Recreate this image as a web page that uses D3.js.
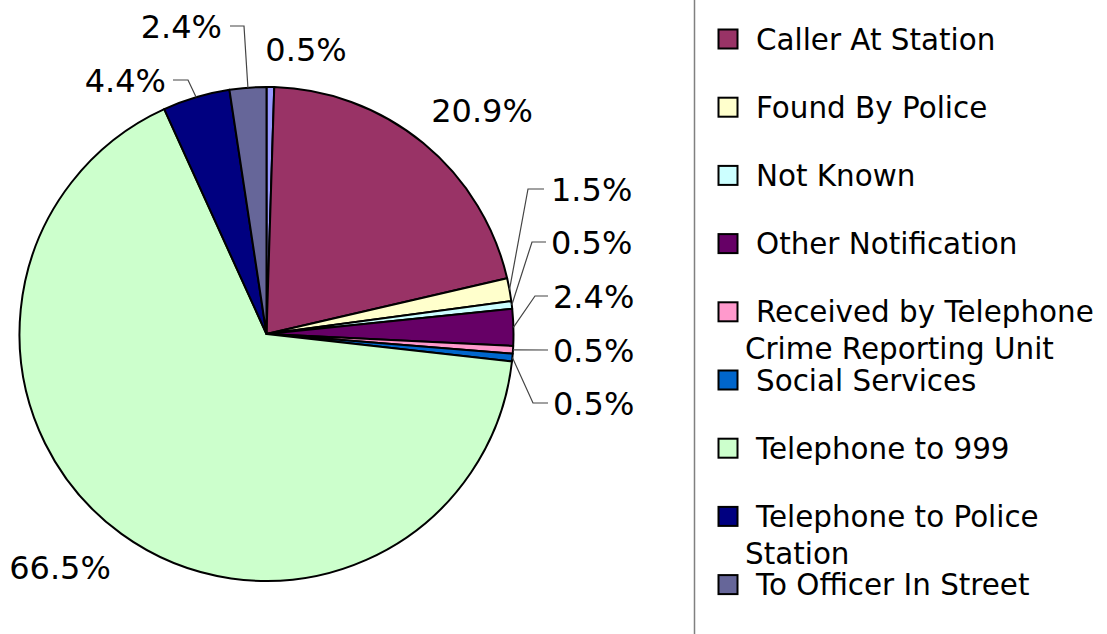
<!DOCTYPE html>
<html><head><meta charset="utf-8">
<script src="https://cdn.jsdelivr.net/npm/d3@7"></script>
<style>body{margin:0;background:#fff}svg{display:block}</style>
</head><body>
<svg id="c" width="1107" height="634"></svg>
<script>
const categories = ["", "Caller At Station", "Found By Police", "Not Known", "Other Notification",
  "Received by Telephone Crime Reporting Unit", "Social Services", "Telephone to 999",
  "Telephone to Police Station", "To Officer In Street"];
const values = [0.5, 20.9, 1.5, 0.5, 2.4, 0.5, 0.5, 66.5, 4.4, 2.4];
const labels = ["0.5%", "20.9%", "1.5%", "0.5%", "2.4%", "0.5%", "0.5%", "66.5%", "4.4%", "2.4%"];
const colors = ["#9999FF", "#993366", "#FFFFCC", "#CCFFFF", "#660066", "#FF99CC", "#0066CC", "#CCFFCC", "#000080", "#666699"];

// label layout (text position, anchor, optional elbow for leader lines)
const labelLayout = [
  {x: 306, y: 49, a: "middle"},
  {x: 482, y: 110, a: "middle"},
  {x: 551, y: 189, a: "start", ex: 528, hx: 544},
  {x: 551, y: 242, a: "start", ex: 532, hx: 546},
  {x: 553, y: 296, a: "start", ex: 535, hx: 548},
  {x: 553, y: 350, a: "start", ex: null, hx: 548},
  {x: 553, y: 403, a: "start", ex: 533, hx: 548},
  {x: 60, y: 567, a: "middle"},
  {x: 166, y: 80, a: "end", ex: 188, hx: 173},
  {x: 222, y: 26, a: "end", ex: 244, hx: 230}
];

const svg = d3.select("#c");
const cx = 266.5, cy = 334, r = 247;
const font = "'DejaVu Sans', Verdana, sans-serif";

const pie = d3.pie().sort(null).value(d => d);
const arcs = pie(values);
const arc = d3.arc().innerRadius(0).outerRadius(r);

const g = svg.append("g").attr("transform", `translate(${cx},${cy})`);
g.selectAll("path").data(arcs).join("path")
  .attr("d", arc)
  .attr("fill", (d, i) => colors[i])
  .attr("stroke", "#000").attr("stroke-width", 2).attr("stroke-linejoin", "round");

// leader lines
arcs.forEach((d, i) => {
  const L = labelLayout[i];
  if (L.hx === undefined) return;
  const m = (d.startAngle + d.endAngle) / 2;
  const sx = cx + r * Math.sin(m), sy = cy - r * Math.cos(m);
  const pts = [[sx, sy]];
  if (L.ex !== null) pts.push([L.ex, L.y]);
  pts.push([L.hx, L.y]);
  svg.append("path").attr("d", d3.line()(pts))
    .attr("fill", "none").attr("stroke", "#444").attr("stroke-width", 1.2);
});

// percentage labels
svg.selectAll("text.lbl").data(arcs).join("text").attr("class", "lbl")
  .attr("x", (d, i) => labelLayout[i].x)
  .attr("y", (d, i) => labelLayout[i].y + 11.5)
  .attr("text-anchor", (d, i) => labelLayout[i].a)
  .attr("font-family", font).attr("font-size", 32).attr("fill", "#000")
  .text((d, i) => labels[i]);

// divider
svg.append("line").attr("x1", 694.5).attr("x2", 694.5).attr("y1", 0).attr("y2", 634)
  .attr("stroke", "#808080").attr("stroke-width", 1.5);

// legend
const leg = svg.append("g");
const items = categories.map((c, i) => ({c, i})).filter(d => d.c !== "");
const lfs = 29.4;
items.forEach((d, k) => {
  const y = 39 + k * 68.2;
  leg.append("rect").attr("x", 718.5).attr("y", y - 9.5).attr("width", 19).attr("height", 19)
    .attr("fill", colors[d.i]).attr("stroke", "#000").attr("stroke-width", 2);
  const t = leg.append("text").attr("font-family", font).attr("font-size", lfs).attr("fill", "#000");
  const words = d.c.split(" ");
  let line = [], lines = [];
  const probe = leg.append("text").attr("font-family", font).attr("font-size", lfs);
  words.forEach(w => {
    const test = line.concat([w]).join(" ");
    probe.text(test);
    if (probe.node().getComputedTextLength() > 345 && line.length) { lines.push(line.join(" ")); line = [w]; }
    else line.push(w);
  });
  lines.push(line.join(" "));
  probe.remove();
  lines.forEach((s, j) => {
    t.append("tspan").attr("x", j === 0 ? 756 : 745).attr("y", y + 10.5 + j * 37).text(s);
  });
});
</script>
</body></html>
